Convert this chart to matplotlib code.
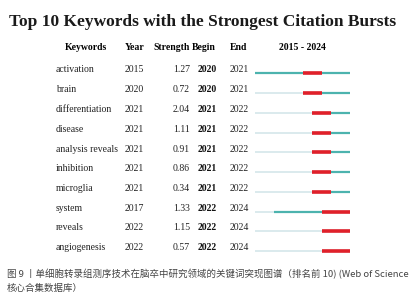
import matplotlib.pyplot as plt

keywords = ["activation", "brain", "differentiation", "disease", "analysis reveals",
            "inhibition", "microglia", "system", "reveals", "angiogenesis"]
year = [2015, 2020, 2021, 2021, 2021, 2021, 2021, 2017, 2022, 2022]
strength = [1.27, 0.72, 2.04, 1.11, 0.91, 0.86, 0.34, 1.33, 1.15, 0.57]
begin = [2020, 2020, 2021, 2021, 2021, 2021, 2021, 2022, 2022, 2022]
end = [2021, 2021, 2022, 2022, 2022, 2022, 2022, 2024, 2024, 2024]
first_year, last_year = 2015, 2024

W, H = 415, 300
fig = plt.figure(figsize=(W / 100, H / 100), dpi=100)

# text layer in pixel coords
tx = fig.add_axes([0, 0, 1, 1])
tx.set_xlim(0, W)
tx.set_ylim(H, 0)
tx.axis("off")

serif = "Liberation Serif"
fs = 7
tx.text(203, 22, "Top 10 Keywords with the Strongest Citation Bursts", fontsize=12.5,
        fontweight="bold", family=serif, ha="center", va="center", color="#1a1a1a")

hy = 48
tx.text(65, hy, "Keywords", fontsize=fs, fontweight="bold", family=serif, va="center")
tx.text(125, hy, "Year", fontsize=fs, fontweight="bold", family=serif, va="center")
tx.text(153, hy, "Strength", fontsize=fs, fontweight="bold", family=serif, va="center")
tx.text(192, hy, "Begin", fontsize=fs, fontweight="bold", family=serif, va="center")
tx.text(230, hy, "End", fontsize=fs, fontweight="bold", family=serif, va="center")
tx.text(302, hy, "%d - %d" % (first_year, last_year), fontsize=fs, fontweight="bold",
        family=serif, ha="center", va="center")

row0, dy = 70, 19.75
for i, kw in enumerate(keywords):
    y = row0 + i * dy
    tx.text(56, y, kw, fontsize=fs, family=serif, va="center", color="#222222")
    tx.text(125, y, str(year[i]), fontsize=fs, family=serif, va="center", color="#222222")
    tx.text(190, y, "%.2f" % strength[i], fontsize=fs, family=serif, va="center",
            ha="right", color="#222222")
    tx.text(198, y, str(begin[i]), fontsize=fs, family=serif, va="center",
            fontweight="bold", color="#111111")
    tx.text(230, y, str(end[i]), fontsize=fs, family=serif, va="center", color="#222222")

cap_font = ["Noto Sans CJK SC", "DejaVu Sans"]
tx.text(7, 274, "图 9 丨单细胞转录组测序技术在脑卒中研究领域的关键词突现图谱（排名前 10) (Web of Science",
        fontsize=6.8, family=cap_font, va="center", color="#444444")
tx.text(7, 288, "核心合集数据库）", fontsize=6.8, family=cap_font, va="center", color="#444444")

# timeline layer: x in years, y in rows
x0, x1 = 255, 350
y_top, y_bot = 73.3, 73.3 + 9 * 19.75
ax = fig.add_axes([x0 / W, 1 - (y_bot + 10) / H, (x1 - x0) / W, (y_bot - y_top + 20) / H])
ax.set_xlim(first_year, last_year + 1)
ax.set_ylim(9 + 10 / 19.75, -10 / 19.75)
ax.axis("off")

for i in range(len(keywords)):
    ax.plot([first_year, last_year + 1], [i, i], color="#d4e6ea", lw=1.2,
            solid_capstyle="butt")
    ax.plot([year[i], last_year + 1], [i, i], color="#4cb3ae", lw=1.6,
            solid_capstyle="butt")
    ax.plot([begin[i], end[i] + 1], [i, i], color="#e0202a", lw=2.6,
            solid_capstyle="butt")

fig.savefig("out.png", dpi=100)
